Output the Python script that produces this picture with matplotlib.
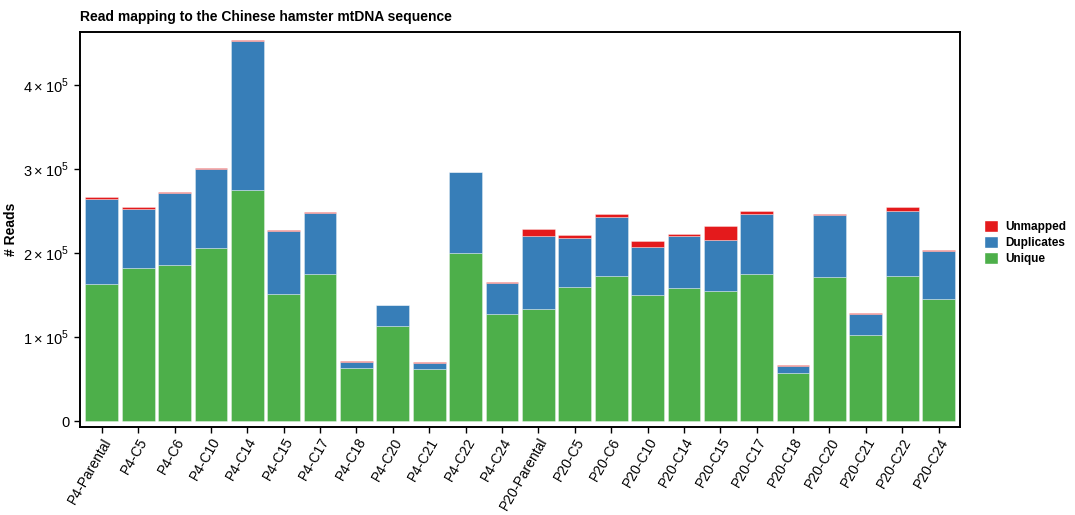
import numpy as np
import matplotlib
matplotlib.use('Agg')
import matplotlib.pyplot as plt
from matplotlib.patches import Patch
from matplotlib.ticker import FuncFormatter

plt.rcParams['font.family'] = ['Liberation Sans', 'DejaVu Sans']
plt.rcParams['mathtext.fontset'] = 'custom'
plt.rcParams['mathtext.rm'] = 'Liberation Sans'

# ── Data (reads per sample) ─────────────────────────────────
samples = ['P4-Parental', 'P4-C5', 'P4-C6', 'P4-C10', 'P4-C14', 'P4-C15',
           'P4-C17', 'P4-C18', 'P4-C20', 'P4-C21', 'P4-C22', 'P4-C24',
           'P20-Parental', 'P20-C5', 'P20-C6', 'P20-C10', 'P20-C14', 'P20-C15',
           'P20-C17', 'P20-C18', 'P20-C20', 'P20-C21', 'P20-C22', 'P20-C24']
unique = [163000, 182400, 186400, 206000, 275800, 151300,
          174900, 62700, 113000, 62300, 200000, 128100,
          133300, 159300, 172500, 150100, 158100, 155300,
          174900, 57500, 171700, 102200, 173300, 145300]
duplicates = [101700, 70700, 85100, 94600, 176900, 74600,
              73400, 8000, 24700, 7200, 96200, 36400,
              87400, 58700, 71000, 57100, 61900, 60600,
              72200, 8400, 73800, 25100, 77000, 57100]
unmapped = [2000, 1600, 1200, 800, 1200, 1600,
            800, 800, 500, 800, 800, 800,
            7700, 3200, 2800, 7200, 2800, 16400,
            2800, 800, 1200, 1700, 4400, 1600]

C_UNMAPPED = '#E41A1C'
C_DUP = '#377EB8'
C_UNIQUE = '#4DAF4A'

fig = plt.figure(figsize=(10.75, 5.15), dpi=100)
ax = fig.add_axes([0.0744, 0.171, 0.819, 0.767])

x = np.arange(len(samples))
u = np.array(unique); d = np.array(duplicates); m = np.array(unmapped)
kw = dict(width=0.9, edgecolor=(1, 1, 1, 0.6), linewidth=0.4)
ax.bar(x, u, color=C_UNIQUE, **kw)
ax.bar(x, d, bottom=u, color=C_DUP, **kw)
ax.bar(x, m, bottom=u + d, color=C_UNMAPPED, **kw)

ax.set_xlim(-0.6, len(samples) - 0.4)
ax.set_ylim(-7000, 463500)


def sci(v, pos):
    if v == 0:
        return '0'
    return r'$%d\times10^{5}$' % round(v / 1e5)


ax.set_yticks([0, 1e5, 2e5, 3e5, 4e5])
ax.yaxis.set_major_formatter(FuncFormatter(sci))
ax.set_xticks(x)
ax.set_xticklabels(samples, rotation=60, ha='right', rotation_mode='anchor')
ax.tick_params(axis='both', labelsize=10.5, colors='black', length=4, width=1)
ax.tick_params(axis='x', labelsize=10, pad=2)
for s in ax.spines.values():
    s.set_linewidth(1.4)

ax.set_ylabel('# Reads', fontsize=10, fontweight='bold')
ax.set_title('Read mapping to the Chinese hamster mtDNA sequence',
             fontsize=10, fontweight='bold', loc='left', pad=8)

handles = [Patch(fc=C_UNMAPPED, ec='white', label='Unmapped'),
           Patch(fc=C_DUP, ec='white', label='Duplicates'),
           Patch(fc=C_UNIQUE, ec='white', label='Unique')]
leg = fig.legend(handles=handles, loc='center left', bbox_to_anchor=(0.905, 0.53),
                 frameon=False, fontsize=8.5, handlelength=1.2, handleheight=1.2,
                 handletextpad=0.6, labelspacing=0.25)
for t in leg.get_texts():
    t.set_fontweight('bold')

fig.savefig('out.png', dpi=100, facecolor='white')
